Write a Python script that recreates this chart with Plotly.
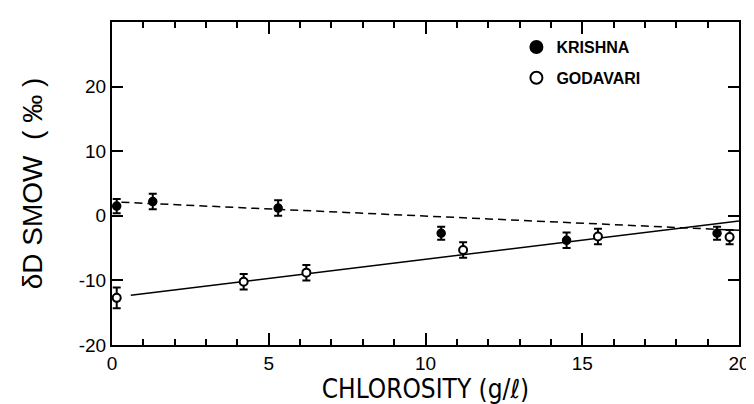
import plotly.graph_objects as go

# Data
krishna_x = [0.15, 1.3, 5.3, 10.5, 14.5, 19.3]
krishna_y = [1.5, 2.2, 1.2, -2.7, -3.8, -2.7]
krishna_err = [1.1, 1.2, 1.2, 1.0, 1.2, 1.0]

godavari_x = [0.15, 4.2, 6.2, 11.2, 15.5, 19.7]
godavari_y = [-12.7, -10.2, -8.8, -5.3, -3.2, -3.3]
godavari_err = [1.6, 1.2, 1.2, 1.2, 1.2, 1.1]

krishna_fit_x = [0.3, 20]
krishna_fit_y = [2.1, -2.25]
godavari_fit_x = [0.6, 20]
godavari_fit_y = [-12.3, -0.8]

x_ticks = [0, 5, 10, 15, 20]
x_tick_labels = ["0", "5", "10", "15", "20"]
y_ticks = [-20, -10, 0, 10, 20]
y_tick_labels = ["-20", "-10", "0", "10", "20"]

fig = go.Figure()

fig.add_trace(go.Scatter(x=krishna_fit_x, y=krishna_fit_y, mode="lines",
                         line=dict(color="black", width=1.5, dash="8px,5px"),
                         showlegend=False, hoverinfo="skip"))
fig.add_trace(go.Scatter(x=godavari_fit_x, y=godavari_fit_y, mode="lines",
                         line=dict(color="black", width=1.5),
                         showlegend=False, hoverinfo="skip"))

fig.add_trace(go.Scatter(x=krishna_x, y=krishna_y, mode="markers", name="KRISHNA",
                         legendgroup="k",
                         marker=dict(symbol="circle", size=8, color="black",
                                     line=dict(color="black", width=1.5)),
                         error_y=dict(type="data", array=krishna_err, color="black",
                                      thickness=2, width=4)))
fig.add_trace(go.Scatter(x=godavari_x, y=godavari_y, mode="markers", name="GODAVARI",
                         legendgroup="g",
                         marker=dict(symbol="circle", size=8, color="white",
                                     line=dict(color="black", width=2)),
                         error_y=dict(type="data", array=godavari_err, color="black",
                                      thickness=2, width=4)))

axis_common = dict(showline=True, linecolor="black", linewidth=2, mirror="ticks",
                   ticks="inside", tickcolor="black", showgrid=False, zeroline=False)

fig.update_xaxes(range=[0, 20], tickvals=x_ticks, ticktext=x_tick_labels,
                 ticklen=12, tickwidth=2,
                 minor=dict(dtick=1, ticks="inside", ticklen=6, tickwidth=1.5,
                            tickcolor="black", showgrid=False),
                 title=dict(text="CHLOROSITY (g/ℓ)", standoff=6,
                            font=dict(size=26, family="DejaVu Sans Condensed, Liberation Sans, sans-serif",
                                      color="black")),
                 tickfont=dict(size=19, family="Liberation Sans", color="black"),
                 **axis_common)
fig.update_yaxes(range=[-20, 30], tickvals=y_ticks, ticktext=y_tick_labels,
                 ticklen=11, tickwidth=2,
                 title=dict(text="δD SMOW  ( ‰ )", standoff=28,
                            font=dict(size=28, family="Liberation Sans", color="black")),
                 tickfont=dict(size=19, family="Liberation Sans", color="black"),
                 **axis_common)

fig.update_layout(
    width=754, height=404,
    margin=dict(l=104, r=12, t=13, b=67),
    plot_bgcolor="white", paper_bgcolor="white",
    legend=dict(x=0.645, y=0.975, xanchor="left", yanchor="top",
                font=dict(size=16, family="Liberation Sans", color="black", weight="bold"),
                bgcolor="rgba(0,0,0,0)", itemsizing="constant",
                traceorder="grouped", tracegroupgap=7),
    showlegend=True,
)

fig.write_html("out.html")
